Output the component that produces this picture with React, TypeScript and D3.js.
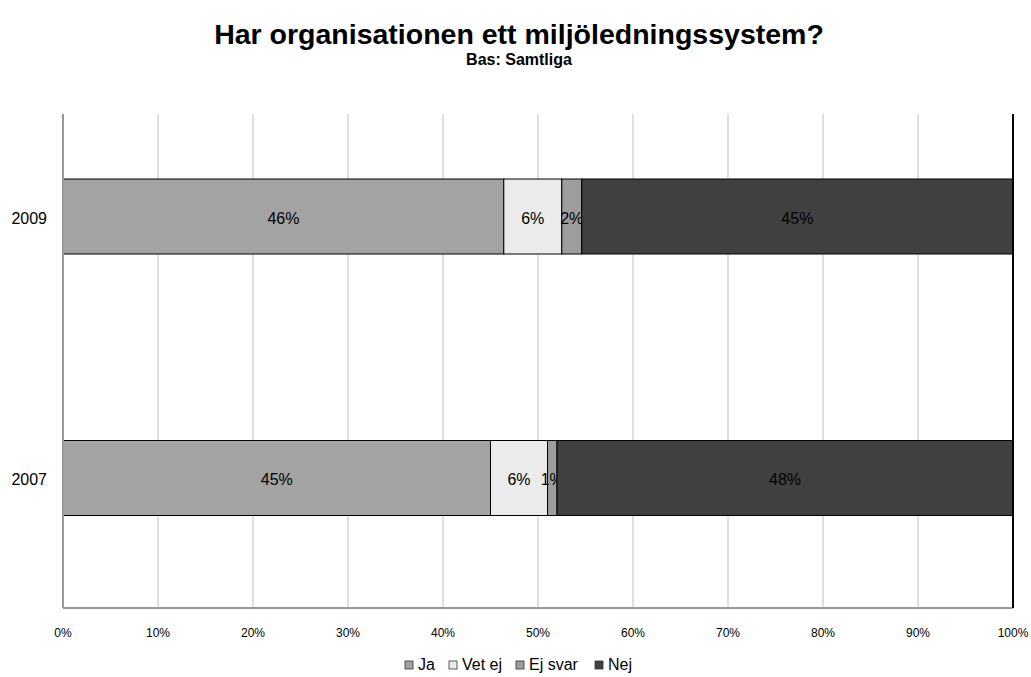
import React from "react";
import * as d3 from "d3";

const years = ["2009", "2007"];
const seriesNames = ["Ja", "Vet ej", "Ej svar", "Nej"];
const ja = [46.4, 45.0];
const vetEj = [6.1, 6.0];
const ejSvar = [2.1, 1.0];
const nej = [45.4, 48.0];
const labels = [
  ["46%", "6%", "2%", "45%"],
  ["45%", "6%", "1%", "48%"],
];
const xTicks = [0, 10, 20, 30, 40, 50, 60, 70, 80, 90, 100];
const colors = ["#a3a3a3", "#ebebeb", "#9d9d9d", "#404040"];

const W = 1031;
const H = 677;
const FONT = "'Liberation Sans', Arial, sans-serif";

export default function App() {
  const left = 63;
  const right = 1013;
  const top = 114;
  const bottom = 608;
  const x = d3.scaleLinear().domain([0, 100]).range([left, right]);
  const yc = d3.scalePoint().domain(years).range([216.5, 478]);
  const bh = 75;
  const rows = years.map((yr, i) => [ja[i], vetEj[i], ejSvar[i], nej[i]]);
  const legendItems = [
    { name: seriesNames[0], x: 405 },
    { name: seriesNames[1], x: 449 },
    { name: seriesNames[2], x: 516 },
    { name: seriesNames[3], x: 595 },
  ];
  return (
    <svg width={W} height={H} style={{ display: "block", position: "absolute", left: 0, top: 0 }} fontFamily={FONT}>
      <rect width={W} height={H} fill="#fff" />
      <text x={519} y={44} textAnchor="middle" fontSize={28.5} fontWeight="bold" fill="#000">
        Har organisationen ett miljöledningssystem?
      </text>
      <text x={519} y={65} textAnchor="middle" fontSize={16} fontWeight="bold" fill="#000">
        Bas: Samtliga
      </text>
      {xTicks.slice(1, -1).map((t) => (
        <line key={t} x1={x(t)} x2={x(t)} y1={top} y2={bottom} stroke="#c0c0c0" strokeWidth={1} />
      ))}
      {rows.map((vals, i) => {
        let acc = 0;
        const c = yc(years[i])!;
        const y0 = c - bh / 2;
        return (
          <g key={years[i]}>
            {vals.map((v, j) => {
              const x0 = x(acc);
              const x1 = x(acc + v);
              acc += v;
              const cx = (x0 + x1) / 2;
              return (
                <g key={j}>
                  <rect x={x0} y={y0} width={x1 - x0} height={bh} fill={colors[j]} stroke="#000" strokeWidth={1} />
                  <text x={cx} y={c + 7} textAnchor="middle" fontSize={16} fill="#000">
                    {labels[i][j]}
                  </text>
                </g>
              );
            })}
            <text x={47} y={c + 7} textAnchor="end" fontSize={16} fill="#000">
              {years[i]}
            </text>
          </g>
        );
      })}
      <line x1={left} x2={left} y1={top} y2={bottom} stroke="#999" strokeWidth={2} />
      <line x1={left} x2={right} y1={bottom} y2={bottom} stroke="#999" strokeWidth={2} />
      <line x1={right} x2={right} y1={top} y2={bottom} stroke="#000" strokeWidth={2} />
      {xTicks.map((t) => (
        <text key={t} x={x(t)} y={637} textAnchor="middle" fontSize={12} fill="#000">
          {t}%
        </text>
      ))}
      {legendItems.map((it, j) => (
        <g key={it.name}>
          <rect x={it.x} y={661} width={8} height={8} fill={colors[j]} stroke="#333" strokeWidth={0.8} />
          <text x={it.x + 13} y={670} fontSize={16} fill="#000">
            {it.name}
          </text>
        </g>
      ))}
    </svg>
  );
}
